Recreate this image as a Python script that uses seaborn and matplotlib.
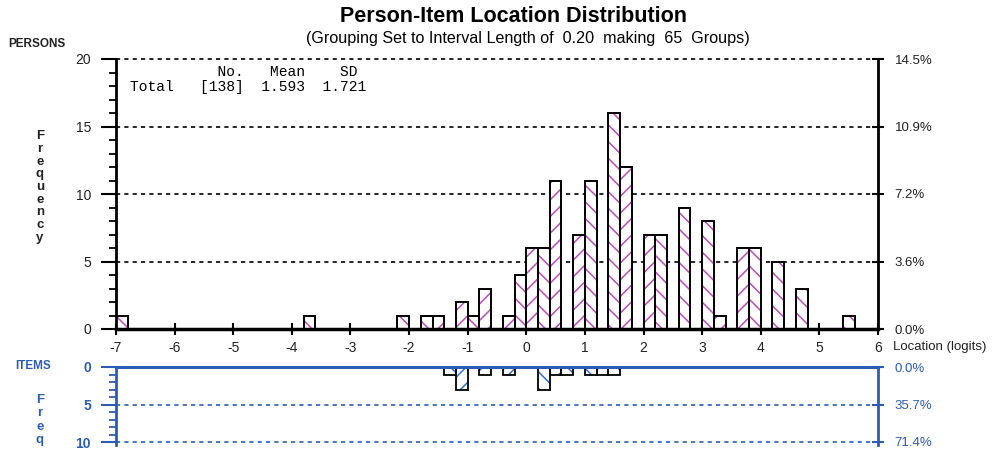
import numpy as np
import pandas as pd
import matplotlib
matplotlib.use("Agg")
import matplotlib.pyplot as plt
from matplotlib.ticker import MultipleLocator
import seaborn as sns

# persons: left edge of each 0.20-logit group and how many persons fall in it
person_bins = [-7.0, -3.8, -2.2, -1.8, -1.6, -1.2, -1.0, -0.8, -0.4, -0.2,
               0.0, 0.2, 0.4, 0.8, 1.0, 1.4, 1.6, 2.0, 2.2, 2.6,
               3.0, 3.2, 3.6, 3.8, 4.2, 4.6, 5.4]
person_counts = [1, 1, 1, 1, 1, 2, 1, 3, 1, 4,
                 6, 6, 11, 7, 11, 16, 12, 7, 7, 9,
                 8, 1, 6, 6, 5, 3, 1]
# items
item_bins = [-1.4, -1.2, -0.8, -0.4, 0.2, 0.4, 0.6, 1.0, 1.2, 1.4]
item_counts = [1, 3, 1, 1, 3, 1, 1, 1, 1, 1]

x_ticks = list(range(-7, 7))
person_yticks = [0, 5, 10, 15, 20]
item_yticks = [0, 5, 10]
summary_header = "          No.   Mean    SD"
summary_row = "Total   [138]  1.593  1.721"

purple = "#c04cba"
blue_hatch = "#3470d8"
blue = "#2c5db4"
dark = "#222222"

sns.set_theme(style="white")
plt.rcParams["font.family"] = ["Liberation Sans", "DejaVu Sans"]
plt.rcParams["hatch.linewidth"] = 1.1
plt.rcParams["axes.unicode_minus"] = False

W, H = 997, 455
fig = plt.figure(figsize=(W / 100, H / 100), dpi=100)


def box(l, t, r, b):
    return [l / W, 1 - b / H, (r - l) / W, (b - t) / H]


def fx(px):
    return px / W


def fy(py):
    return 1 - py / H


hist_kw = dict(x="location", weights="count", bins=65, binrange=(-7, 6))
person_df = pd.DataFrame({"location": np.array(person_bins) + 0.1, "count": person_counts})
item_df = pd.DataFrame({"location": np.array(item_bins) + 0.1, "count": item_counts})

# ---- persons panel
ax = fig.add_axes(box(116, 59, 878, 329))
sns.histplot(data=person_df, ax=ax, color="white", edgecolor=purple,
             linewidth=0, alpha=1, **hist_kw)
for i, p in enumerate(ax.patches):
    p.set_hatch("\\\\" if i % 2 == 0 else "//")
sns.histplot(data=person_df, ax=ax, fill=False, color="black",
             linewidth=1.4, **hist_kw)
ax.set_xlim(-7, 6)
ax.set_ylim(0, 20)
ax.set_xlabel("")
ax.set_ylabel("")
for v in person_yticks[1:]:
    ax.axhline(v, color="black", ls=(0, (2.5, 2.5)), lw=1.2, zorder=0.5, clip_on=False)
ax.set_xticks(x_ticks)
ax.set_yticks(person_yticks)
ax.yaxis.set_minor_locator(MultipleLocator(1))
ax.tick_params(axis="x", direction="inout", length=8, width=1.5, pad=5,
               labelsize=10, colors="black", labelcolor=dark, bottom=True)
ax.tick_params(axis="y", which="major", direction="out", length=11, width=1.5,
               pad=7, labelsize=10, colors="black", labelcolor=dark, left=True)
ax.tick_params(axis="y", which="minor", direction="out", length=5, width=1.3,
               colors="black", left=True)
for s in ["top", "right"]:
    ax.spines[s].set_visible(False)
ax.spines["left"].set_linewidth(2)
ax.spines["left"].set_color("black")
ax.spines["bottom"].set_linewidth(2.5)
ax.spines["bottom"].set_color("black")

axr = ax.twinx()
axr.set_ylim(0, 20)
n_persons = sum(person_counts)
axr.set_yticks(person_yticks)
axr.set_yticklabels([f"{v / n_persons * 100:.1f}%" for v in person_yticks])
axr.tick_params(axis="y", direction="inout", length=8, width=1.5, pad=8,
                labelsize=9.5, colors="black", labelcolor=dark, right=True)
for s in ["top", "left", "bottom"]:
    axr.spines[s].set_visible(False)
axr.spines["right"].set_linewidth(2)
axr.spines["right"].set_color("black")
axr.grid(False)

# ---- items panel
axi = fig.add_axes(box(116, 367, 878, 445))
sns.histplot(data=item_df, ax=axi, color="white", edgecolor=blue_hatch,
             linewidth=0, alpha=1, **hist_kw)
for i, p in enumerate(axi.patches):
    p.set_hatch("\\\\" if i % 2 == 0 else "//")
sns.histplot(data=item_df, ax=axi, fill=False, color="black",
             linewidth=1.3, **hist_kw)
axi.set_xlim(-7, 6)
axi.set_ylim(10.4, 0)
axi.set_xlabel("")
axi.set_ylabel("")
for v in item_yticks[1:]:
    axi.axhline(v, color=blue, ls=(0, (2.5, 2.5)), lw=1.2, zorder=0.5)
axi.set_xticks([])
axi.set_yticks(item_yticks)
axi.yaxis.set_minor_locator(MultipleLocator(1))
axi.tick_params(axis="y", which="major", direction="out", length=11, width=1.5,
                pad=7, labelsize=10, colors=blue, left=True)
axi.tick_params(axis="y", which="minor", direction="out", length=5, width=1.3,
                colors=blue, left=True)
for lab in axi.get_yticklabels():
    lab.set_fontweight("bold")
axi.spines["bottom"].set_visible(False)
axi.spines["right"].set_visible(False)
axi.spines["left"].set_linewidth(2)
axi.spines["left"].set_color(blue)
axi.spines["top"].set_linewidth(2.2)
axi.spines["top"].set_color(blue)

axir = axi.twinx()
axir.set_ylim(10.4, 0)
n_items = sum(item_counts)
axir.set_yticks(item_yticks)
axir.set_yticklabels([f"{v / n_items * 100:.1f}%" for v in item_yticks])
axir.tick_params(axis="y", direction="inout", length=8, width=1.5, pad=8,
                 labelsize=9.5, colors=blue, right=True)
for s in ["top", "left", "bottom"]:
    axir.spines[s].set_visible(False)
axir.spines["right"].set_linewidth(2)
axir.spines["right"].set_color(blue)
axir.grid(False)

# ---- texts
fig.text(fx(514), fy(17), "Person-Item Location Distribution", ha="center", va="center",
         fontsize=15.5, fontweight="bold", color="black")
fig.text(fx(528), fy(38), "(Grouping Set to Interval Length of  0.20  making  65  Groups)",
         ha="center", va="center", fontsize=11.6, color="black")
fig.text(fx(8), fy(44), "PERSONS", ha="left", va="center", fontsize=8.5,
         fontweight="bold", color=dark)
fig.text(fx(40), fy(187), "\n".join("Frequency"), ha="center", va="center",
         fontsize=9.5, fontweight="bold", color=dark, linespacing=1.08)
fig.text(fx(893), fy(347), "Location (logits)", ha="left", va="center",
         fontsize=9.5, color=dark)
fig.text(fx(15), fy(366), "ITEMS", ha="left", va="center", fontsize=8.5,
         fontweight="bold", color=blue)
fig.text(fx(40), fy(420), "\n".join("Freq"), ha="center", va="center",
         fontsize=9.5, fontweight="bold", color=blue, linespacing=1.12)
fig.text(fx(130), fy(72), summary_header, ha="left", va="center",
         fontsize=10.5, family="Liberation Mono", color="black")
fig.text(fx(130), fy(87), summary_row, ha="left", va="center",
         fontsize=10.5, family="Liberation Mono", color="black")

fig.savefig("out.png", dpi=100)
